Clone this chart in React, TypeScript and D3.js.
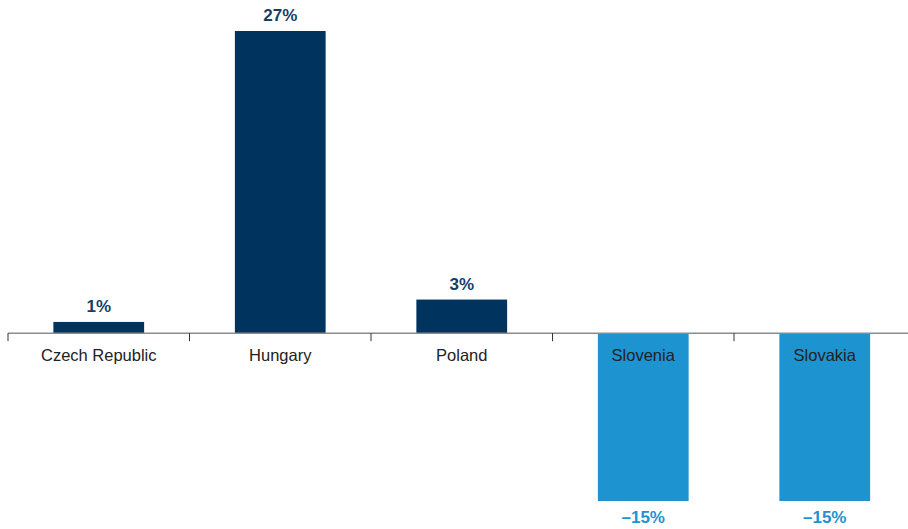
import React from "react";
import * as d3 from "d3";

const categories = ["Czech Republic", "Hungary", "Poland", "Slovenia", "Slovakia"];
const values = [1, 27, 3, -15, -15];
const valueLabels = ["1%", "27%", "3%", "\u201315%", "\u201315%"];

const W = 908;
const H = 529;

export default function App() {
  const x = d3
    .scaleBand<string>()
    .domain(categories)
    .range([8, 915.5])
    .paddingInner(0.5)
    .paddingOuter(0.25);
  const y = d3.scaleLinear().domain([-15, 27]).range([501, 31]);
  const step = x.step();
  const y0 = y(0);
  const navy = "#00335d";
  const blue = "#1d93d0";
  const font = "'Liberation Sans', Arial, Helvetica, sans-serif";

  return (
    <svg
      width={W}
      height={H}
      style={{ position: "absolute", left: 0, top: 0, background: "#fff" }}
      fontFamily={font}
    >
      {categories.map((c, i) => {
        const v = values[i];
        const bx = x(c)!;
        const top = y(Math.max(0, v));
        const bot = y(Math.min(0, v));
        return (
          <rect key={c} x={bx} y={top} width={x.bandwidth()} height={bot - top} fill={v >= 0 ? navy : blue} />
        );
      })}
      <line x1={8} x2={W} y1={y0} y2={y0} stroke="#8c8c8c" strokeWidth={1.5} />
      {categories.map((c) => {
        const tx = x(c)! - step * 0.25;
        return <line key={"t" + c} x1={tx} x2={tx} y1={y0} y2={y0 + 8} stroke="#333" strokeWidth={1} />;
      })}
      {categories.map((c) => (
        <text
          key={"c" + c}
          x={x(c)! + x.bandwidth() / 2}
          y={y0 + 28}
          textAnchor="middle"
          fontSize={16.5}
          fill="#222"
        >
          {c}
        </text>
      ))}
      {categories.map((c, i) => {
        const v = values[i];
        const cx = x(c)! + x.bandwidth() / 2;
        const ty = v >= 0 ? y(v) - 10 : y(v) + 22;
        return (
          <text
            key={"v" + c}
            x={cx}
            y={ty}
            textAnchor="middle"
            fontSize={17}
            fontWeight="bold"
            fill={v >= 0 ? "#163f66" : blue}
          >
            {valueLabels[i]}
          </text>
        );
      })}
    </svg>
  );
}
